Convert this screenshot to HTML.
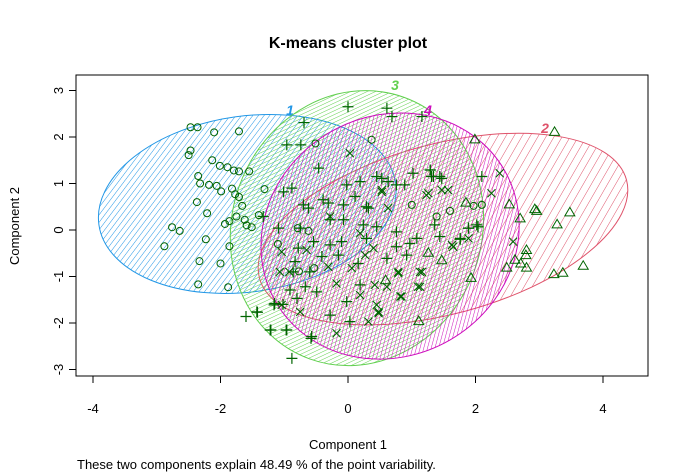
<!DOCTYPE html>
<html><head><meta charset="utf-8"><style>
body{margin:0;background:#fff}
svg{display:block;font-family:"Liberation Sans",Arial,sans-serif}
</style></head><body>
<svg id="chart" width="689" height="474" viewBox="0 0 689 474">
<defs>
<pattern id="hp1" width="4.5" height="4.5" patternUnits="userSpaceOnUse" patternTransform="rotate(45)"><line x1="0" y1="0" x2="0" y2="4.5" stroke="#2297E6" stroke-width="1"/></pattern>
<pattern id="hp2" width="7" height="7" patternUnits="userSpaceOnUse" patternTransform="rotate(45)"><line x1="0" y1="0" x2="0" y2="7" stroke="#DF536B" stroke-width="1"/></pattern>
<pattern id="hp3" width="3.5" height="3.5" patternUnits="userSpaceOnUse" patternTransform="rotate(45)"><line x1="0" y1="0" x2="0" y2="3.5" stroke="#61D04F" stroke-width="1"/></pattern>
<pattern id="hp4" width="3.6" height="3.6" patternUnits="userSpaceOnUse" patternTransform="rotate(45)"><line x1="0" y1="0" x2="0" y2="3.6" stroke="#CD0BBC" stroke-width="1"/></pattern>
</defs>
<text x="348" y="48" text-anchor="middle" font-size="16" font-weight="bold">K-means cluster plot</text>
<g id="ell"></g>
<g id="pts"></g>
<rect x="76" y="75" width="572" height="301" fill="none" stroke="#000"/>
<g id="axes"></g>
<text x="348" y="449" text-anchor="middle" font-size="13">Component 1</text>
<text x="19" y="226" text-anchor="middle" font-size="13" transform="rotate(-90 19 226)">Component 2</text>
<text x="77" y="469" font-size="13">These two components explain 48.49 % of the point variability.</text>
</svg>
<script>
const xTicks=[-4,-2,0,2,4];
const yTicks=[-3,-2,-1,0,1,2,3];
const ellCx=[-1.58,1.49,0.14,0.66];
const ellCy=[0.56,0.02,0.04,-0.13];
const ellRx=[2.35,2.98,1.96,2.07];
const ellRy=[1.89,1.83,2.99,2.58];
const ellRot=[-8,-15,20,-30];
const ellLabels=["1","2","3","4"];
const ellColors=["#2297E6","#DF536B","#61D04F","#CD0BBC"];
const c1x=[-2.47,-2.36,-2.10,-1.71,-2.47,-2.50,-2.13,-2.01,-1.89,-1.79,-1.71,-1.55,-2.35,-2.32,-2.18,-2.06,-1.99,-1.82,-1.77,-1.71,-1.31,-2.37,-2.21,-1.66,-1.75,-1.86,-1.93,-2.76,-2.64,-2.23,-2.88,-1.86,-2.33,-2.00,-2.35,-1.88,-1.62,-1.59,-1.51,-1.40,-0.51,0.37,1.00,1.39,1.60,1.97,2.10,-0.79,-0.62,-1.10,-0.53,-0.77];
const c1y=[2.21,2.21,2.10,2.12,1.71,1.61,1.50,1.38,1.35,1.28,1.26,1.26,1.16,1.00,0.97,0.95,0.83,0.89,0.77,0.71,0.88,0.60,0.36,0.52,0.29,0.19,0.13,0.06,-0.02,-0.20,-0.35,-0.35,-0.67,-0.72,-1.17,-1.23,0.22,0.10,0.06,0.32,1.86,1.94,0.54,0.29,0.41,0.52,0.54,0.04,-0.02,-0.30,-0.82,-0.89];
const c2x=[3.24,1.99,1.85,2.53,2.93,2.96,3.48,2.70,3.28,1.26,1.47,2.80,2.79,2.71,2.80,2.62,2.49,3.23,3.37,3.69,1.93,1.11,0.59];
const c2y=[2.11,1.95,0.59,0.55,0.45,0.41,0.38,0.25,0.12,-0.49,-0.65,-0.43,-0.54,-0.72,-0.81,-0.64,-0.81,-0.95,-0.92,-0.77,-1.03,-1.96,-1.08];
const c3x=[-0.96,-0.74,-0.46,-1.01,-0.88,-0.70,-0.62,-0.39,-0.31,-0.02,0.11,0.19,0.45,0.53,0.63,0.76,0.89,1.02,1.29,1.31,1.47,-0.07,0.29,0.32,-0.28,-0.07,0.24,0.45,-1.33,-1.09,-0.75,0.76,1.36,1.44,1.89,1.76,-0.54,-0.10,0.29,1.08,0.97,0.76,-0.78,-0.28,-0.15,0.61,0.92,-0.83,-0.41,0.16,-0.60,-0.86,0.19,-0.91,-0.67,-0.49,-0.80,-1.15,-0.02,-1.43,-0.28,0.03,-1.22,-0.96,-0.57,-0.88,2.02,0.00,-0.69,-1.60,-1.42,-1.21,-0.97,-0.58,-1.16,-1.02,0.61,0.69,1.16,1.29,1.34,1.44,2.10,1.89,2.04,1.76];
const c3y=[1.83,1.83,1.33,0.82,0.90,0.54,0.47,0.65,0.58,0.97,0.72,1.04,1.15,1.11,1.04,0.97,0.97,1.22,1.29,1.15,1.11,0.54,0.50,0.47,0.22,0.22,0.11,0.07,0.29,0.04,0.04,-0.04,0.11,-0.14,0.04,-0.18,-0.25,-0.25,-0.18,-0.18,-0.29,-0.36,-0.39,-0.32,-0.54,-0.61,-0.54,-0.68,-0.57,-0.72,-0.90,-0.90,-1.18,-1.29,-1.22,-1.33,-1.47,-1.58,-1.54,-1.76,-1.83,-1.97,-2.15,-2.15,-2.29,-2.76,0.11,2.65,2.31,-1.86,-1.77,-2.15,-2.15,-2.33,-1.61,-1.60,2.62,2.44,2.44,1.29,1.15,1.15,1.15,0.04,0.07,-0.20];
const c4x=[0.03,0.53,0.63,1.26,1.57,0.19,0.40,0.27,-1.04,-1.07,-0.31,-0.18,0.06,0.19,0.42,0.84,0.61,1.10,1.16,0.79,1.65,1.89,0.45,0.48,0.32,-0.75,-0.18,-1.04,-0.28,-0.65,2.38,2.25,2.59,0.53,1.23,1.47,1.63,0.79,1.13,0.82,0.48,1.13,-0.92];
const c4y=[1.65,0.86,0.47,0.79,0.86,-0.07,-0.39,-0.54,-0.47,-0.90,-0.79,-1.15,-0.82,-1.40,-1.18,-1.43,-1.22,-1.22,-0.90,-0.93,-0.36,-0.18,-1.61,-1.79,-1.97,-1.76,-2.22,-1.61,0.29,-0.43,1.22,0.79,-0.25,0.82,0.75,0.86,-0.32,-0.90,-1.22,-1.43,-1.76,-0.90,-0.90];

const NS="http://www.w3.org/2000/svg";
const sx=v=>348+v*63.75, sy=v=>230-v*46.5;
function mk(tag,attrs,parent){const e=document.createElementNS(NS,tag);for(const k in attrs)e.setAttribute(k,attrs[k]);parent.appendChild(e);return e;}
const ax=document.getElementById('axes');
xTicks.forEach(t=>{
  const l=mk('line',{x1:sx(t),x2:sx(t),y1:376,y2:383,stroke:'#000'},ax);
  
  
  const tx=mk('text',{x:sx(t),y:413,'text-anchor':'middle','font-size':13},ax);tx.textContent=t;
  
  
});
yTicks.forEach(t=>{
  const l=mk('line',{x1:69,x2:76,y1:sy(t),y2:sy(t),stroke:'#000'},ax);
  
  
  const tx=mk('text',{x:63,y:sy(t),'text-anchor':'middle','font-size':13,transform:`rotate(-90 63 ${sy(t)})`},ax);tx.textContent=t;
  
  
});
const eg=document.getElementById('ell');
const labPos=[[290,115],[545,133],[395,90],[428,115]];
ellCx.forEach((c,i)=>{
  const cx=sx(c),cy=sy(ellCy[i]);
  const e=mk('ellipse',{cx:cx,cy:cy,rx:ellRx[i]*63.75,ry:ellRy[i]*46.5,transform:`rotate(${ellRot[i]} ${cx} ${cy})`,fill:`url(#hp${i+1})`,stroke:ellColors[i],'stroke-width':1},eg);
  
  
  const t=mk('text',{x:labPos[i][0],y:labPos[i][1],'font-size':14,'font-weight':'bold','font-style':'italic',fill:ellColors[i],'text-anchor':'middle'},eg);
  t.textContent=ellLabels[i];
  
  
});
const pg=document.getElementById('pts');
const G='#006400';
c1x.forEach((v,i)=>{const e=mk('circle',{cx:sx(v),cy:sy(c1y[i]),r:3.5,fill:'none',stroke:G},pg);
  
  });
c2x.forEach((v,i)=>{const x=sx(v),y=sy(c2y[i]);const e=mk('polygon',{points:`${x},${y-5} ${x-5},${y+3.5} ${x+5},${y+3.5}`,fill:'none',stroke:G},pg);
  
  });
c3x.forEach((v,i)=>{const x=sx(v),y=sy(c3y[i]);const e=mk('path',{d:`M${x-5.5},${y}H${x+5.5}M${x},${y-5.5}V${y+5.5}`,stroke:G,'stroke-width':1.2},pg);
  
  });
c4x.forEach((v,i)=>{const x=sx(v),y=sy(c4y[i]);const e=mk('path',{d:`M${x-4},${y-4}L${x+4},${y+4}M${x-4},${y+4}L${x+4},${y-4}`,stroke:G,'stroke-width':1.1},pg);
  
  });
</script>
</body></html>
